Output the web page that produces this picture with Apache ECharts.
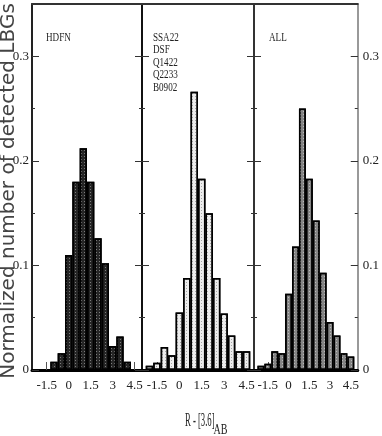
<!DOCTYPE html>
<html><head><meta charset="utf-8">
<script src="https://cdn.jsdelivr.net/npm/echarts@6/dist/echarts.min.js"></script>
<style>html,body{margin:0;padding:0;background:#fff}#c{width:382px;height:436px}</style>
</head><body><div id="c"></div>
<script>
// ---------------- data ----------------
const panelNames = ['HDFN', 'SSA22\nDSF\nQ1422\nQ2233\nB0902', 'ALL'];
const binsHDFN   = [-1.0, -0.5, 0, 0.5, 1.0, 1.5, 2.0, 2.5, 3.0, 3.5, 4.0];
const valuesHDFN = [0.008, 0.016, 0.110, 0.180, 0.212, 0.180, 0.126, 0.102, 0.023, 0.032, 0.008];
const binsOther   = [-2.0, -1.5, -1.0, -0.5, 0, 0.5, 1.0, 1.5, 2.0, 2.5, 3.0, 3.5, 4.0, 4.5];
const valuesOther = [0.004, 0.007, 0.022, 0.014, 0.055, 0.088, 0.266, 0.183, 0.150, 0.088, 0.054, 0.033, 0.018, 0.018];
const binsAll   = [-2.0, -1.5, -1.0, -0.5, 0, 0.5, 1.0, 1.5, 2.0, 2.5, 3.0, 3.5, 4.0, 4.5];
const valuesAll = [0.004, 0.006, 0.018, 0.016, 0.073, 0.118, 0.250, 0.183, 0.143, 0.093, 0.046, 0.033, 0.016, 0.013];
const xTickValues = [-1.5, 0, 1.5, 3, 4.5];
const xTitleMain = 'R - [3.6]';
const xTitleSub = 'AB';
const yTitle = 'Normalized number of detected LBGs';

// ---------------- layout / style ----------------
const panels = [
  { bins: binsHDFN, values: valuesHDFN },
  { bins: binsOther, values: valuesOther },
  { bins: binsAll, values: valuesAll }
];
const gridBoxes = [
  { left: 32, top: 4, width: 110, height: 366 },
  { left: 142, top: 4, width: 112, height: 366 },
  { left: 254, top: 4, width: 110, height: 366 }
];
const fills = ['#262626', '#ececec', '#858585'];
const decalColors = ['rgba(255,255,255,0.4)', 'rgba(0,0,0,0.3)', 'rgba(255,255,255,0.45)'];
const leftLine = [{ c: '#222', w: 2 }, { c: '#111', w: 2 }, { c: '#333', w: 2 }];
const rightLine = [{ c: '#111', w: 2 }, { c: '#333', w: 2 }, { c: '#777', w: 1.5 }];
const labelX = [46, 153, 269];
const SERIF = "'Liberation Serif', 'Times New Roman', serif";

const grid = gridBoxes.map(g => Object.assign({ containLabel: false }, g));
const xAxis = [];
const yAxis = [];
const series = [];

panels.forEach((p, i) => {
  xAxis.push({
    gridIndex: i, type: 'value', min: -2.5, max: 5, position: 'bottom',
    axisLine: { show: true, onZero: false, lineStyle: { color: '#000', width: 3 } },
    axisTick: { show: true, inside: true, length: 8, customValues: xTickValues, lineStyle: { color: '#555', width: 1 } },
    axisLabel: { show: true, customValues: xTickValues, margin: 9, fontSize: 13, color: '#222', fontFamily: SERIF },
    splitLine: { show: false }
  });
  xAxis.push({
    gridIndex: i, type: 'value', min: -2.5, max: 5, position: 'top',
    axisLine: { show: true, onZero: false, lineStyle: { color: '#333', width: 2 } },
    axisTick: { show: false }, axisLabel: { show: false }, splitLine: { show: false }
  });
  const sides = [['left', leftLine[i], i === 0], ['right', rightLine[i], i === 2]];
  sides.forEach(([pos, ln, showLab]) => {
    yAxis.push({
      gridIndex: i, type: 'value', min: 0, max: 0.35, interval: 0.1, position: pos,
      axisLine: { show: true, onZero: false, lineStyle: { color: ln.c, width: ln.w } },
      axisTick: { show: true, inside: true, length: 7, lineStyle: { color: '#333', width: 1 } },
      axisLabel: { show: showLab, showMaxLabel: false, margin: pos === 'left' ? 3 : 5, fontSize: 13, color: '#222', fontFamily: SERIF },
      splitLine: { show: false }
    });
    yAxis.push({
      gridIndex: i, type: 'value', min: 0, max: 0.35, interval: 0.05, position: pos,
      axisLine: { show: false, onZero: false },
      axisTick: { show: true, inside: true, length: 3, lineStyle: { color: '#333', width: 1 } },
      axisLabel: { show: false }, splitLine: { show: false }
    });
  });
  series.push({
    type: 'bar', xAxisIndex: i * 2, yAxisIndex: i * 4,
    data: p.bins.map((b, k) => [b, p.values[k]]),
    barWidth: '100%',
    itemStyle: {
      color: fills[i], borderColor: '#000', borderWidth: 1.5,
      decal: { symbol: 'rect', symbolSize: 1, dashArrayX: [1, 2], dashArrayY: [1, 2], color: decalColors[i] }
    },
    silent: true
  });
});

const graphic = [];
panelNames.forEach((t, i) => {
  graphic.push({
    type: 'text', x: labelX[i], y: 31, scaleX: 0.7, silent: true,
    style: { text: t, fontSize: 13, lineHeight: 12.5, fontFamily: SERIF, fill: '#222', align: 'left', verticalAlign: 'top' }
  });
});
graphic.push({
  type: 'text', x: 185, y: 421, scaleX: 0.48, silent: true,
  style: { text: xTitleMain, fontSize: 18, fontFamily: SERIF, fill: '#222', align: 'left', verticalAlign: 'middle' }
});
graphic.push({
  type: 'text', x: 213.5, y: 430, scaleX: 0.67, silent: true,
  style: { text: xTitleSub, fontSize: 15, fontFamily: SERIF, fill: '#222', align: 'left', verticalAlign: 'middle' }
});
graphic.push({
  type: 'text', x: 9, y: 191, rotation: Math.PI / 2, silent: true,
  style: { text: yTitle, fontSize: 20, fontFamily: "'DejaVu Sans', sans-serif", fill: '#444', align: 'center', verticalAlign: 'middle' }
});

const chart = echarts.init(document.getElementById('c'), null, { renderer: 'canvas' });
chart.setOption({
  animation: false,
  backgroundColor: '#fff',
  grid, xAxis, yAxis, series, graphic
});
</script>
</body></html>
